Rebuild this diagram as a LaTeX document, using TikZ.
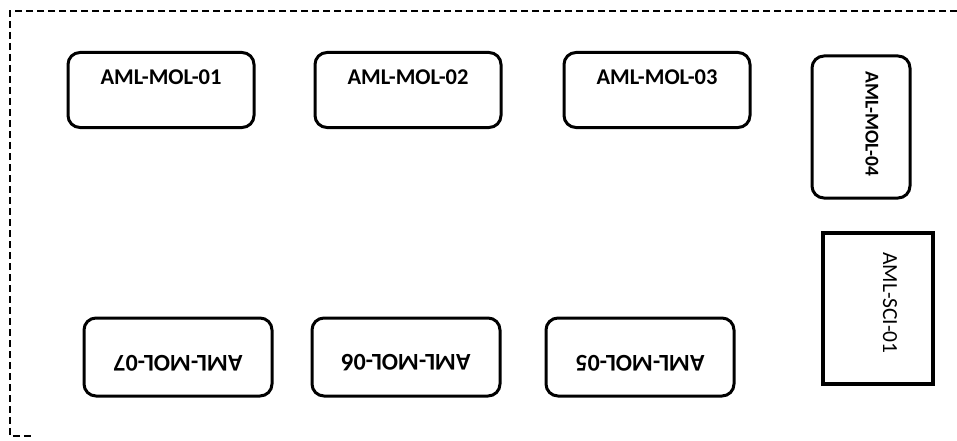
\documentclass[tikz,border=0pt]{standalone}
\usepackage{fontspec}
\setmainfont{Carlito}
\tikzset{
  rack/.style={draw, line width=3pt, rounded corners=12pt, inner sep=0pt},
  cabinet/.style={draw, line width=4pt, inner sep=0pt, minimum width=110pt, minimum height=151pt},
  tag/.style={font=\bfseries\fontsize{#1}{#1}\selectfont, inner sep=0pt},
  tag/.default=22.5,
  room/.style={line width=2.2pt, dash pattern=on 7pt off 4pt},
}

\begin{document}
\begin{tikzpicture}[x=1pt, y=-1pt]
  \useasboundingbox (0,0) rectangle (957,441);
  % room outline
  \draw[room] (957,11) -- (10,11) -- (10,436) -- (32,436);

  % top row
  \foreach \n/\x in {01/161, 02/408, 03/657} {
    \node[rack, minimum width=186pt, minimum height=75pt] (mol\n) at (\x,90) {};
    \node[tag] (lbl\n) at (\x,77) {AML-MOL-\n};
  }
  \node[rack, minimum width=98pt, minimum height=142pt] (mol04) at (861,127) {};
  \node[tag=19.5, rotate=-90] (lbl04) at (872,124) {AML-MOL-04};

  % bottom row, facing the other way
  \foreach \n/\x in {07/178, 06/406, 05/640} {
    \node[rack, minimum width=188pt, minimum height=78pt] (mol\n) at (\x,357) {};
    \node[tag=24, rotate=180] (lbl\n) at (\x,363) {AML-MOL-\n};
  }

  \node[cabinet] (sci01) at (878,308) {};
  \node[font=\fontsize{21.5}{22}\selectfont, inner sep=0pt, rotate=-90] (lblsci) at (890,303) {AML-SCI-01};
\end{tikzpicture}
\end{document}
